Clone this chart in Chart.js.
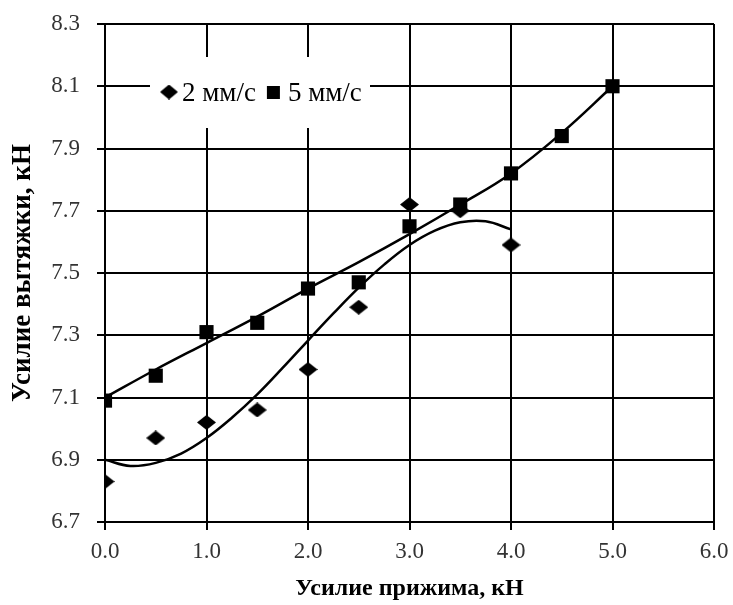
<!DOCTYPE html>
<html>
<head>
<meta charset="utf-8">
<script src="https://cdn.jsdelivr.net/npm/chart.js@4"></script>
<style>
    body { margin: 0; background: #fff; }
    canvas { display: block; }
</style>
</head>
<body>
<canvas id="forceChart" width="733" height="605"></canvas>
<script>
// measured points
const forceX = [0.0, 0.5, 1.0, 1.5, 2.0, 2.5, 3.0, 3.5, 4.0, 4.5, 5.0];
const speed2Values = [6.83, 6.97, 7.02, 7.06, 7.19, 7.39, 7.72, 7.70, 7.59];
const speed5Values = [7.09, 7.17, 7.31, 7.34, 7.45, 7.47, 7.65, 7.72, 7.82, 7.94, 8.10];

// trend lines
const trend2X = [0, 0.25, 0.5, 0.75, 1.0, 1.25, 1.5, 1.75, 2.0, 2.25, 2.5, 2.75, 3.0, 3.25, 3.5, 3.75, 4.0];
const trend2Values = [6.90, 6.88, 6.89, 6.92, 6.97, 7.035, 7.11, 7.195, 7.283, 7.37, 7.453, 7.527, 7.59, 7.636, 7.663, 7.666, 7.64];
const trend5X = [0, 0.5, 1.0, 1.5, 2.0, 2.5, 3.0, 3.5, 4.0, 4.5, 5.0];
const trend5Values = [7.10, 7.19, 7.275, 7.36, 7.45, 7.535, 7.625, 7.72, 7.82, 7.95, 8.10];

const xTicks = [0, 1, 2, 3, 4, 5, 6];
const yTicks = [6.7, 6.9, 7.1, 7.3, 7.5, 7.7, 7.9, 8.1, 8.3];

const seriesLabels = ["2 мм/с", "5 мм/с"];

function toPoints(xs, ys) {
    return ys.map((y, i) => ({ x: xs[i], y: y }));
}

// flat diamond marker like the original
function makeDiamond(w, h) {
    let c = document.createElement("canvas");
    c.width = w;
    c.height = h;
    let g = c.getContext("2d");
    g.fillStyle = "#000";
    g.beginPath();
    g.moveTo(w / 2, 0);
    g.lineTo(w, h / 2);
    g.lineTo(w / 2, h);
    g.lineTo(0, h / 2);
    g.closePath();
    g.fill();
    return c;
}

const diamond = makeDiamond(19, 15);
const legendDiamond = makeDiamond(18, 15);

const insideLegend = {
    id: "insideLegend",
    afterDraw(chart) {
        const ctx = chart.ctx;
        const area = chart.chartArea;
        const left = area.left + 45;
        const top = area.top + 33;
        ctx.save();
        ctx.fillStyle = "#fff";
        ctx.fillRect(left, top, 220, 71);
        ctx.fillStyle = "#000";
        ctx.font = "27px 'Liberation Serif'";
        ctx.textBaseline = "alphabetic";
        let midY = top + 35;
        let x = left + 10;
        ctx.drawImage(legendDiamond, x, midY - 7.5);
        x += 22;
        ctx.fillText(seriesLabels[0], x, midY + 9);
        x += ctx.measureText(seriesLabels[0]).width + 11;
        ctx.fillRect(x, midY - 6, 13, 13);
        x += 21;
        ctx.fillText(seriesLabels[1], x, midY + 9);
        ctx.restore();
    }
};

document.addEventListener("DOMContentLoaded", function () {
    let ctx = document.getElementById("forceChart").getContext("2d");

    new Chart(ctx, {
        type: "scatter",
        data: {
            datasets: [{
                label: seriesLabels[0],
                data: toPoints(forceX, speed2Values),
                pointStyle: diamond,
                pointRadius: 9,
                showLine: false
            }, {
                label: seriesLabels[1],
                data: toPoints(forceX, speed5Values),
                pointStyle: "rect",
                pointRadius: 10,
                backgroundColor: "#000",
                borderColor: "#000",
                borderWidth: 0,
                showLine: false
            }, {
                label: "",
                data: toPoints(trend2X, trend2Values),
                showLine: true,
                pointRadius: 0,
                borderColor: "#000",
                borderWidth: 2.5,
                tension: 0.4
            }, {
                label: "",
                data: toPoints(trend5X, trend5Values),
                showLine: true,
                pointRadius: 0,
                borderColor: "#000",
                borderWidth: 2.5,
                tension: 0.4
            }]
        },
        options: {
            responsive: false,
            animation: false,
            layout: { padding: { top: 24, right: 19, left: 0, bottom: 0 } },
            plugins: {
                legend: { display: false },
                tooltip: { enabled: false }
            },
            scales: {
                x: {
                    type: "linear",
                    min: xTicks[0],
                    max: xTicks[xTicks.length - 1],
                    afterBuildTicks: function (scale) {
                        scale.ticks = xTicks.map(v => ({ value: v }));
                    },
                    afterFit: function (scale) {
                        scale.height = 83;
                        scale.paddingLeft = 0;
                        scale.paddingRight = 0;
                    },
                    ticks: {
                        color: "#333",
                        padding: 8,
                        font: { family: "'Liberation Serif'", size: 23 },
                        callback: v => Number(v).toFixed(1)
                    },
                    grid: { color: "#000", lineWidth: 2, tickLength: 8 },
                    border: { color: "#000", width: 2 },
                    title: {
                        display: true,
                        text: "Усилие прижима, кН",
                        color: "#000",
                        padding: { top: 0, bottom: 2 },
                        font: { family: "'Liberation Serif'", size: 24, weight: "bold" }
                    }
                },
                y: {
                    min: yTicks[0],
                    max: yTicks[yTicks.length - 1],
                    afterBuildTicks: function (scale) {
                        scale.ticks = yTicks.map(v => ({ value: v }));
                    },
                    afterFit: function (scale) {
                        scale.width = 105;
                        scale.paddingTop = 0;
                        scale.paddingBottom = 0;
                    },
                    ticks: {
                        color: "#333",
                        padding: 17,
                        font: { family: "'Liberation Serif'", size: 23 },
                        callback: v => Number(v).toFixed(1)
                    },
                    grid: { color: "#000", lineWidth: 2, tickLength: 8 },
                    border: { color: "#000", width: 2 },
                    title: {
                        display: true,
                        text: "Усилие вытяжки, кН",
                        color: "#000",
                        padding: { top: 7, bottom: 0 },
                        font: { family: "'Liberation Serif'", size: 27, weight: "bold" }
                    }
                }
            }
        },
        plugins: [insideLegend]
    });
});
</script>
</body>
</html>
